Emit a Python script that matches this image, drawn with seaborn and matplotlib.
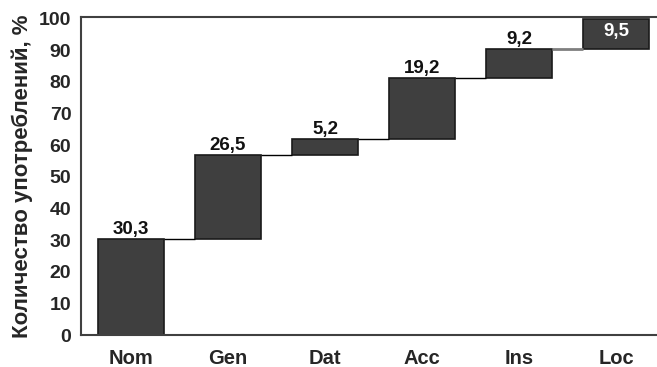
import numpy as np
import pandas as pd
import matplotlib
matplotlib.use('Agg')
import matplotlib.pyplot as plt
import seaborn as sns

# Падежи и доли употреблений, %
cases = ['Nom', 'Gen', 'Dat', 'Acc', 'Ins', 'Loc']
shares = [30.3, 26.5, 5.2, 19.2, 9.2, 9.5]
yticks = list(range(0, 101, 10))

sns.set_theme(style='white')
plt.rcParams['font.family'] = ['Liberation Sans', 'DejaVu Sans']

df = pd.DataFrame({'case': cases, 'share': shares})
df['top'] = df['share'].cumsum()
df['base'] = df['top'] - df['share']

fig = plt.figure(figsize=(6.57, 3.67), dpi=100)
ax = fig.add_axes([81 / 657, 32 / 367, 585 / 657, 318 / 367])

sns.barplot(data=df, x='case', y='share', bottom=df['base'].values, color='#3f3f3f',
            saturation=1, width=0.68, edgecolor='#1a1a1a', linewidth=1.2, ax=ax)

# соединительные линии между столбцами
for i in range(len(df) - 1):
    ax.plot([i + 0.34, i + 1 - 0.34], [df['top'][i], df['top'][i]],
            color='#7f7f7f' if i == len(df) - 2 else 'black',
            lw=2 if i == len(df) - 2 else 1, solid_capstyle='butt', zorder=1)

# подписи значений
for i, row in df.iterrows():
    label = f"{row['share']:.1f}".replace('.', ',')
    if i == len(df) - 1:
        ax.text(i, row['top'] - 1.2, label, ha='center', va='top', color='white',
                fontsize=13.5, fontweight='bold')
    else:
        ax.text(i, row['top'] + 0.3, label, ha='center', va='bottom', color='#111111',
                fontsize=13.5, fontweight='bold')

ax.set_xlim(-0.515, 5.515)
ax.set_ylim(0, 100.5)
ax.set_yticks(yticks)
ax.set_yticklabels([str(v) for v in yticks], fontsize=14, fontweight='bold')
ax.set_xticks(range(len(cases)))
ax.set_xticklabels(cases, fontsize=14.5, fontweight='bold')
ax.tick_params(axis='y', length=0, pad=7)
ax.tick_params(axis='x', length=0, pad=10)
ax.set_xlabel('')
ax.set_ylabel('Количество употреблений, %', fontsize=16, fontweight='bold', labelpad=4)
for side in ['left', 'bottom', 'top', 'right']:
    ax.spines[side].set_color('#404040')
    ax.spines[side].set_linewidth(1.5)

fig.savefig('out.png', dpi=100)
